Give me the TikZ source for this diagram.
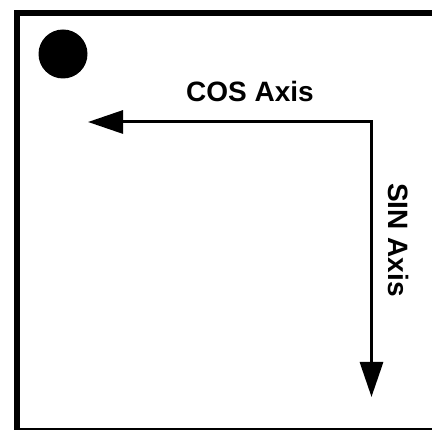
\documentclass[tikz,border=0pt]{standalone}
\usepackage{fontspec}
\setmainfont{Liberation Sans}
\usetikzlibrary{arrows.meta,positioning}

\begin{document}
\begin{tikzpicture}[x=1pt,y=1pt,
  axisline/.style={line width=3pt,{Triangle[length=35pt,width=23pt]}-{Triangle[length=35pt,width=23pt]}},
  axislabel/.style={font=\fontsize{28}{34}\selectfont\bfseries,inner sep=0pt,anchor=base}]

\useasboundingbox (0,0) rectangle (432,430);
\clip (0,0) rectangle (432,430);
\draw[line width=6pt] (17,417) rectangle (435,-1);

\node[circle,fill=black,minimum size=49pt,inner sep=0pt] (dot) at (63,376) {};

\coordinate (corner) at (371.5,308);
\coordinate (cosend) at (88,308);
\coordinate (sinend) at (371.5,33);
\draw[axisline] (cosend) -- (corner) -- (sinend);

\node[axislabel] (coslabel) at (250,328) {COS Axis};
\node[axislabel,rotate=-90] (sinlabel) at (388,190) {SIN Axis};

\end{tikzpicture}
\end{document}
